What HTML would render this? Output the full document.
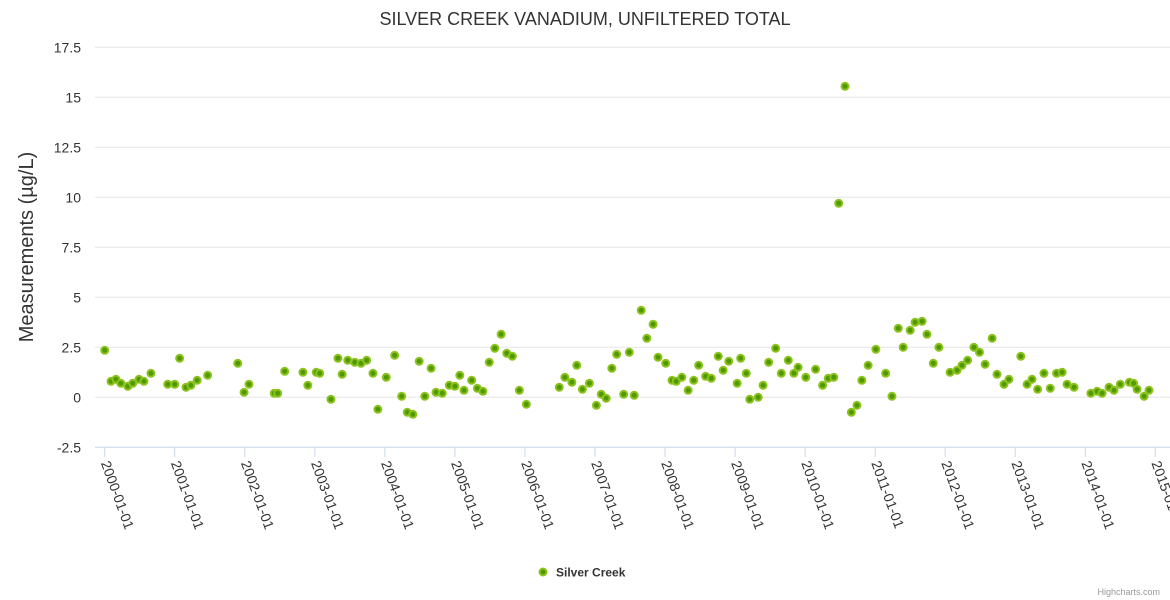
<!DOCTYPE html>
<html><head><meta charset="utf-8"><style>
body{margin:0;background:#fff;font-family:"Liberation Sans",sans-serif}
svg{display:block}
</style></head><body>
<svg id="chart" width="1170" height="600" xmlns="http://www.w3.org/2000/svg">
<text x="585" y="25" text-anchor="middle" font-size="18" fill="#333">SILVER CREEK VANADIUM, UNFILTERED TOTAL</text>
<text transform="translate(33,247) rotate(-90)" text-anchor="middle" font-size="20" fill="#333">Measurements (µg/L)</text>
<g id="grid"></g><g id="xaxis"></g><g id="points"></g>
<g>
<circle cx="543" cy="572" r="3.5" fill="#4f9a00" stroke="#8dc21f" stroke-width="2"/>
<text x="556" y="576.5" font-size="12" font-weight="bold" fill="#333">Silver Creek</text>
</g>
<text x="1160" y="595" text-anchor="end" font-size="9" fill="#999">Highcharts.com</text>
</svg>
<script>
const yTicks=[-2.5,0,2.5,5,7.5,10,12.5,15,17.5];
const yTickLabels=["-2.5","0","2.5","5","7.5","10","12.5","15","17.5"];
const xTickYears=[0,1,2,3,4,5,6,7,8,9,10,11,12,13,14,15];
const xTickLabels=["2000-01-01","2001-01-01","2002-01-01","2003-01-01","2004-01-01","2005-01-01","2006-01-01","2007-01-01","2008-01-01","2009-01-01","2010-01-01","2011-01-01","2012-01-01","2013-01-01","2014-01-01","2015-01-01"];
const dates=[0,.09,.16,.23,.33,.40,.49,.56,.66,.90,1.00,1.07,1.16,1.23,1.32,1.47,1.90,1.99,2.06,2.42,2.47,2.57,2.83,2.90,3.02,3.07,3.23,3.33,3.39,3.47,3.57,3.66,3.74,3.83,3.90,4.02,4.14,4.24,4.32,4.40,4.49,4.57,4.66,4.73,4.82,4.92,5.00,5.07,5.13,5.24,5.32,5.40,5.49,5.57,5.66,5.74,5.82,5.92,6.02,6.49,6.57,6.67,6.74,6.82,6.92,7.02,7.09,7.16,7.24,7.31,7.41,7.49,7.56,7.66,7.74,7.83,7.90,8.01,8.10,8.16,8.24,8.33,8.41,8.48,8.58,8.66,8.76,8.83,8.91,9.03,9.08,9.16,9.21,9.33,9.40,9.48,9.58,9.66,9.76,9.84,9.90,10.01,10.15,10.25,10.33,10.41,10.48,10.57,10.66,10.74,10.81,10.90,11.01,11.15,11.24,11.33,11.40,11.50,11.57,11.67,11.74,11.83,11.91,12.07,12.17,12.24,12.32,12.41,12.49,12.57,12.67,12.74,12.84,12.91,13.08,13.17,13.24,13.32,13.41,13.50,13.59,13.67,13.74,13.84,14.08,14.17,14.24,14.34,14.41,14.50,14.63,14.69,14.74,14.84,14.91];
const values=[2.35,.8,.9,.7,.55,.7,.9,.8,1.2,.65,.65,1.95,.5,.6,.85,1.1,1.7,.25,.65,.2,.2,1.3,1.25,.6,1.25,1.2,-.1,1.95,1.15,1.85,1.75,1.7,1.85,1.2,-.6,1.0,2.1,.05,-.75,-.85,1.8,.05,1.45,.25,.2,.6,.55,1.1,.35,.85,.45,.3,1.75,2.45,3.15,2.2,2.05,.35,-.35,.5,1.0,.75,1.6,.4,.7,-.4,.15,-.05,1.45,2.15,.15,2.25,.1,4.35,2.95,3.65,2.0,1.7,.85,.8,1.0,.35,.85,1.6,1.05,.95,2.05,1.35,1.8,.7,1.95,1.2,-.1,0,.6,1.75,2.45,1.2,1.85,1.2,1.5,1.0,1.4,.6,.95,1.0,9.7,15.55,-.75,-.4,.85,1.6,2.4,1.2,.05,3.45,2.5,3.35,3.75,3.8,3.15,1.7,2.5,1.25,1.35,1.6,1.85,2.5,2.25,1.65,2.95,1.15,.65,.9,2.05,.65,.9,.4,1.2,.45,1.2,1.25,.65,.5,.2,.3,.2,.5,.35,.65,.75,.7,.4,.05,.35];
const NS="http://www.w3.org/2000/svg";
const xS=t=>104.7+t*70.04;
const yS=v=>397.3-v*20;
const grid=document.getElementById('grid'),xa=document.getElementById('xaxis'),pts=document.getElementById('points');
function mk(tag,attrs,parent){const e=document.createElementNS(NS,tag);for(const k in attrs)e.setAttribute(k,attrs[k]);parent.appendChild(e);return e;}
yTicks.forEach((v,i)=>{
  const l=mk('line',{x1:95,x2:1170,y1:yS(v),y2:yS(v),stroke:v===-2.5?'#ccd6eb':'#e6e6e6','stroke-width':1},grid);
  
  
  const t=mk('text',{x:81,y:yS(v)+5,'text-anchor':'end','font-size':14,fill:'#333'},grid);
  t.textContent=yTickLabels[i];
  
  
});
xTickYears.forEach((yr,i)=>{
  const x=xS(yr);
  const tk=mk('line',{x1:x,x2:x,y1:447.3,y2:457,stroke:'#ccd6eb'},xa);
  
  
  const t=mk('text',{x:0,y:0,'font-size':14,fill:'#333',transform:`translate(${x-4},${463}) rotate(70)`},xa);
  t.textContent=xTickLabels[i];
  
  
});
dates.forEach((d,i)=>{
  const c=mk('circle',{cx:xS(d),cy:yS(values[i]),r:3.5,fill:'#4f9a00',stroke:'#8dc21f','stroke-width':2},pts);
  
  
});
</script>
</body></html>
